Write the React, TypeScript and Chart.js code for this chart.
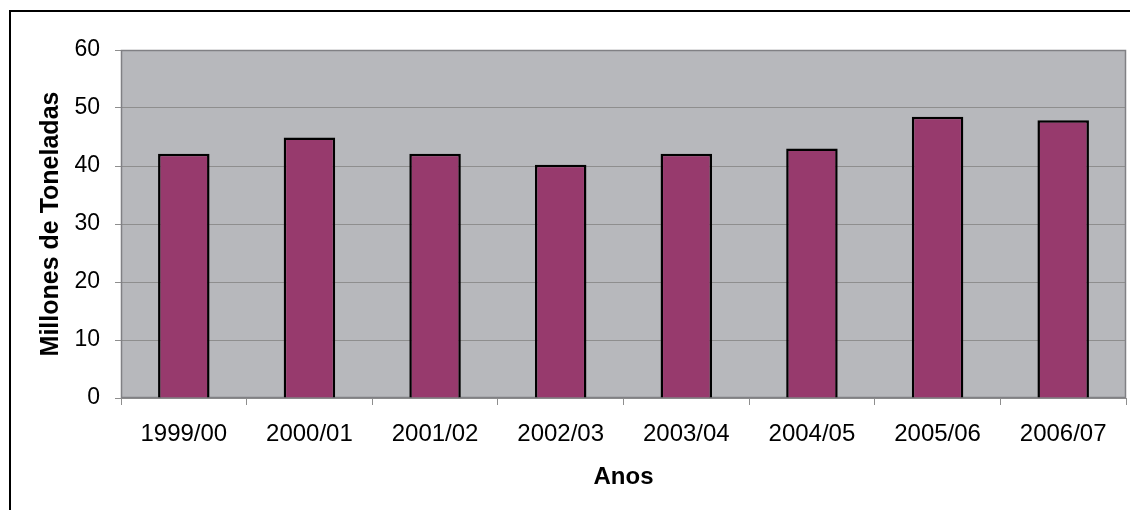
import React, { useEffect, useRef } from 'react';
import { Chart, registerables } from 'chart.js';

Chart.register(...registerables);

const categories = ['1999/00', '2000/01', '2001/02', '2002/03', '2003/04', '2004/05', '2005/06', '2006/07'];
const production = [42.1, 44.9, 42.1, 40.2, 42.1, 43.0, 48.5, 47.9];
const yMin = 0;
const yMax = 60;
const yStep = 10;
const xTitle = 'Anos';
const yTitle = 'Millones de Toneladas';

const FONT = '"Liberation Sans", Arial, Helvetica, sans-serif';
const GRID = '#8E8E8E';

const framePlugin = {
  id: 'frame',
  beforeDraw(chart: any) {
    const { ctx, chartArea } = chart;
    const { left, top, right, bottom } = chartArea;
    ctx.save();
    ctx.fillStyle = '#ffffff';
    ctx.fillRect(0, 0, chart.width, chart.height);
    ctx.fillStyle = '#B7B8BC';
    ctx.fillRect(left, top, right - left, bottom - top);
    ctx.lineWidth = 2;
    ctx.strokeStyle = '#000000';
    ctx.strokeRect(10, 11, chart.width + 40, chart.height + 40);
    ctx.restore();
  },
  beforeDatasetsDraw(chart: any) {
    const { ctx, chartArea } = chart;
    const { left, top, right, bottom } = chartArea;
    ctx.save();
    ctx.lineWidth = 1.5;
    ctx.strokeStyle = '#808084';
    ctx.strokeRect(left + 0.5, top + 0.5, right - left - 1, bottom - top - 1);
    ctx.restore();
  },
};

export default function App() {
  const ref = useRef<HTMLCanvasElement | null>(null);

  useEffect(() => {
    if (!ref.current) return;
    const chart = new Chart(ref.current, {
      type: 'bar',
      data: {
        labels: categories,
        datasets: [
          {
            data: production,
            backgroundColor: '#973A6D',
            borderColor: '#000000',
            borderWidth: 2.5,
            barPercentage: 0.41,
            categoryPercentage: 1,
          },
        ],
      },
      options: {
        animation: false,
        responsive: false,
        devicePixelRatio: 1,
        layout: { padding: { top: 50, right: 4, left: 0, bottom: 0 } },
        plugins: {
          legend: { display: false },
          tooltip: { enabled: false },
          title: { display: false },
        },
        scales: {
          x: {
            afterFit(scale: any) {
              scale.height = 112;
            },
            grid: {
              drawOnChartArea: false,
              drawTicks: true,
              tickLength: 7,
              color: GRID,
              offset: true,
            },
            border: { display: true, color: GRID, width: 1 },
            ticks: {
              color: '#000000',
              font: { family: FONT, size: 24 },
              padding: 15,
              maxRotation: 0,
            },
            title: {
              display: true,
              text: xTitle,
              color: '#000000',
              font: { family: FONT, size: 24, weight: 'bold' },
              padding: { top: 0, bottom: 18 },
            },
          },
          y: {
            min: yMin,
            max: yMax,
            afterFit(scale: any) {
              scale.width = 121;
            },
            grid: {
              color: GRID,
              drawTicks: true,
              tickLength: 6,
              lineWidth: 1,
            },
            border: { display: true, color: GRID, width: 1 },
            ticks: {
              stepSize: yStep,
              color: '#000000',
              font: { family: FONT, size: 23 },
              padding: 15,
            },
            title: {
              display: true,
              text: yTitle,
              color: '#000000',
              font: { family: FONT, size: 25, weight: 'bold' },
              padding: { top: 36, bottom: 0 },
            },
          },
        },
      },
      plugins: [framePlugin],
    });
    return () => chart.destroy();
  }, []);

  return (
    <div style={{ position: 'fixed', left: 0, top: 0, width: 1130, height: 510, background: '#fff' }}>
      <canvas ref={ref} width={1130} height={510} style={{ display: 'block', width: 1130, height: 510 }} />
    </div>
  );
}
